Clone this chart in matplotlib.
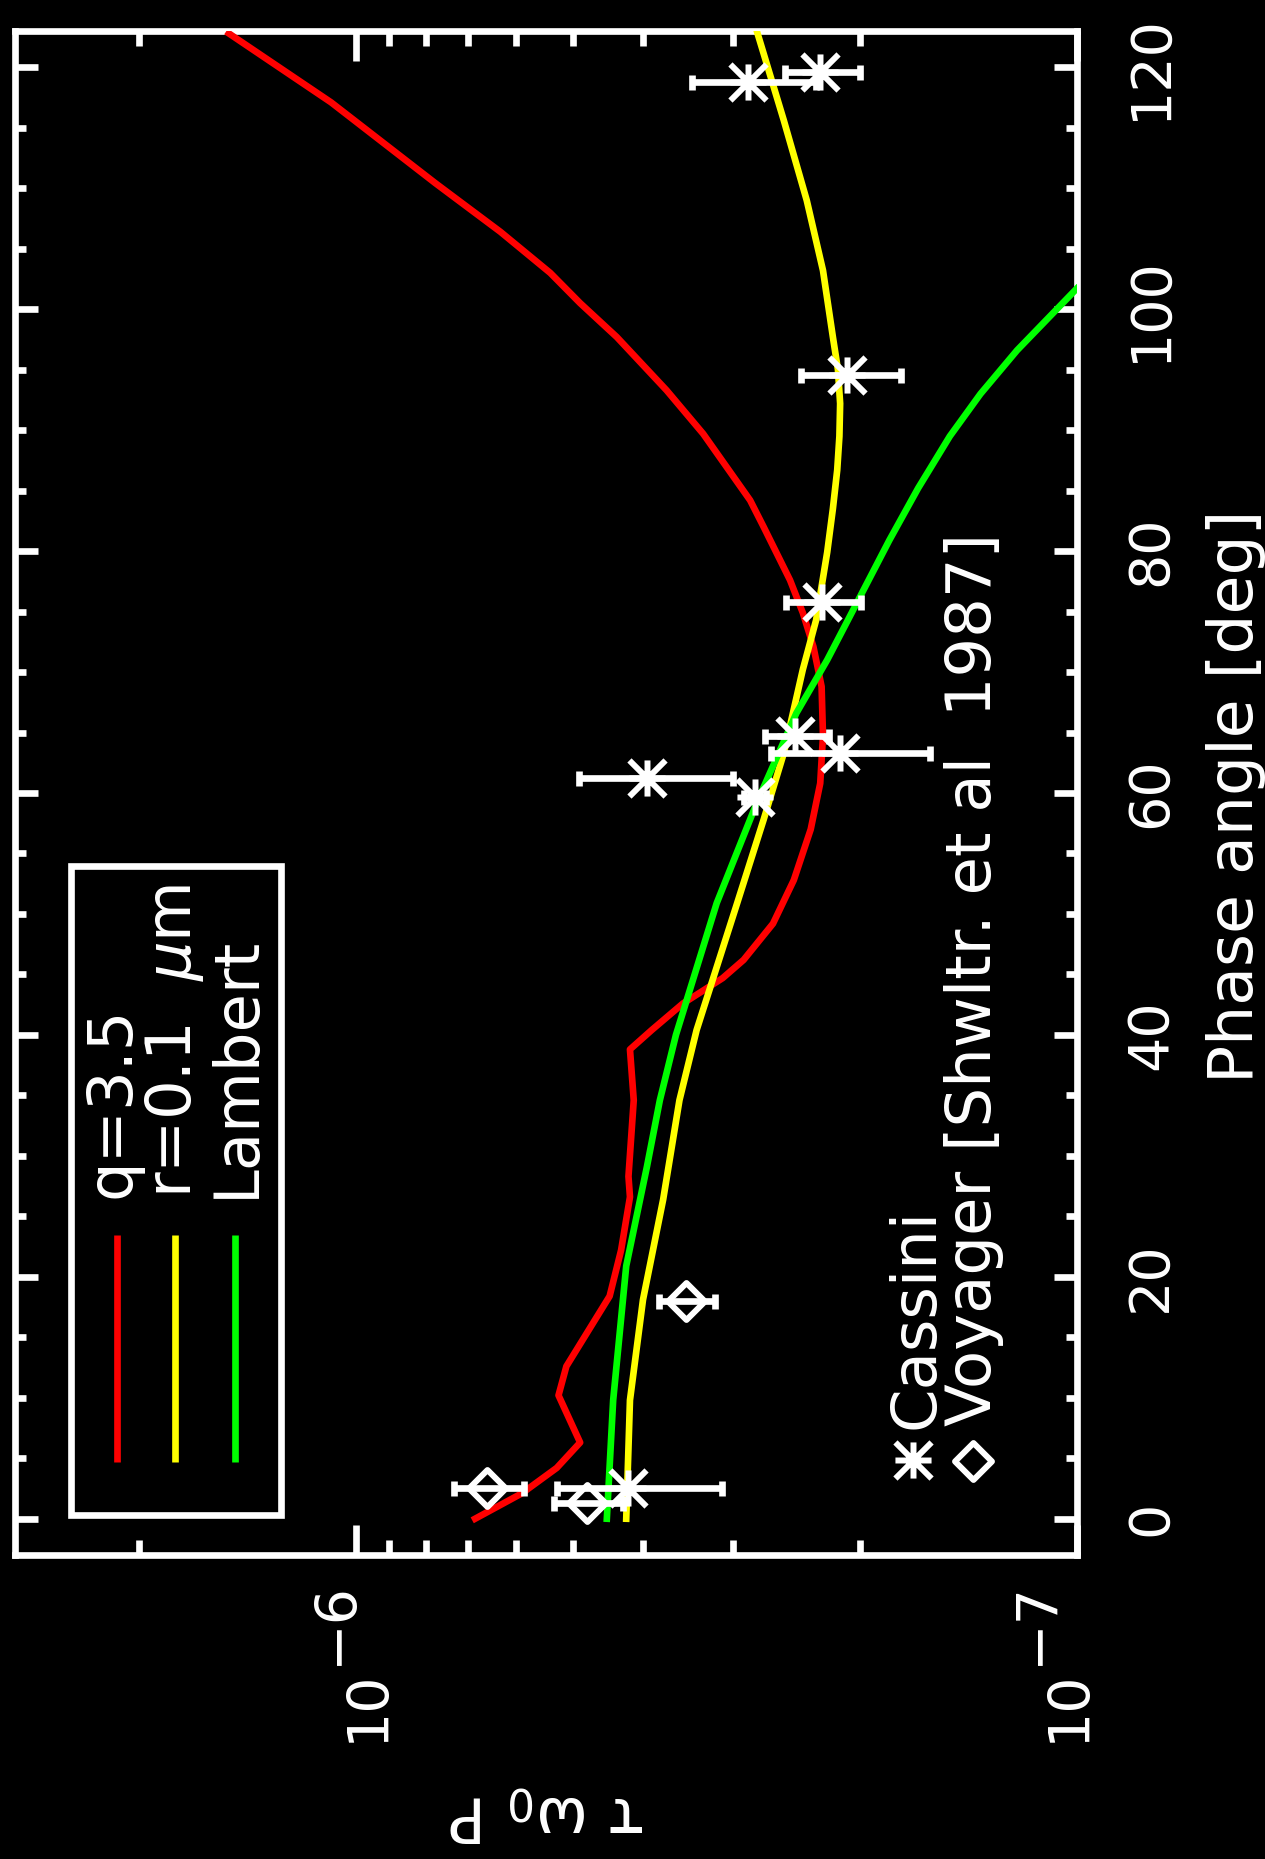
import numpy as np
import matplotlib
matplotlib.use("Agg")
import matplotlib.pyplot as plt
from matplotlib.path import Path
from matplotlib import transforms
from matplotlib.patches import Rectangle
from matplotlib.ticker import FixedLocator, MultipleLocator, NullFormatter

# ---------------------------------------------------------------- data
# tau * omega0 * P values are given in units of 1e-7
UNIT = 1e-7

# model: size distribution q = 3.5
phase_q35 = [0, 2.1, 4.2, 6.3, 10.2, 12.6, 18.4, 22.2, 26.6, 28.3, 34.6, 38.8,
             40.4, 42.6, 44.7, 46.2, 49.2, 52.8, 57.0, 60.8, 64.7, 68.8, 72.1,
             74.9, 77.6, 82.0, 84.2, 89.7, 93.3, 97.7, 100.5, 103.0, 106.4,
             110.4, 117.1, 122.8]
tau_q35 = [6.84, 5.89, 5.27, 4.89, 5.24, 5.11, 4.45, 4.29, 4.17, 4.19, 4.12, 4.17,
           3.89, 3.52, 3.10, 2.90, 2.64, 2.47, 2.34, 2.27, 2.25, 2.26, 2.32,
           2.40, 2.50, 2.72, 2.84, 3.30, 3.71, 4.35, 4.89, 5.38, 6.31,
           7.76, 10.84, 15.03]

# model: single grain size r = 0.1 micron
phase_r01 = [0, 9.8, 18.1, 26.4, 34.6, 40.4, 50.9, 57.8, 63.3, 70.2, 74.3, 79.9,
             83.5, 86.7, 89.5, 92.2, 95.0, 97.7, 103.2, 109.0, 115.6, 123.0]
tau_r01 = [4.22, 4.17, 4.00, 3.75, 3.56, 3.37, 2.96, 2.72, 2.55, 2.40, 2.30, 2.22,
           2.18, 2.15, 2.135, 2.13, 2.145, 2.18, 2.25, 2.37, 2.55, 2.78]

# model: Lambert surface
phase_lam = [0, 9.8, 20.9, 29.1, 34.6, 40.0, 50.9, 59.2, 66.6, 71.0, 75.7, 80.9,
             85.2, 89.5, 93.0, 96.6, 101.7]
tau_lam = [4.49, 4.40, 4.22, 3.95, 3.79, 3.60, 3.16, 2.78, 2.45, 2.22, 2.02, 1.82,
           1.66, 1.50, 1.36, 1.21, 1.00]

# Cassini measurements
cas_phase = [2.5, 59.7, 61.2, 63.3, 64.7, 75.8, 94.6, 118.8, 119.6]
cas_tau = [4.19, 2.80, 3.95, 2.13, 2.46, 2.26, 2.085, 2.86, 2.27]
cas_err = [1.08, 0.10, 0.95, 0.53, 0.25, 0.27, 0.33, 0.56, 0.27]

# Voyager measurements (Showalter et al. 1987)
voy_phase = [1.3, 2.5, 18.0]
voy_tau = [4.79, 6.59, 3.49]
voy_err = [0.52, 0.73, 0.31]

phase_ticks = [0, 20, 40, 60, 80, 100, 120]
decade_ticks = [1e-6, 1e-7]
decade_exponents = ["\u22126", "\u22127"]

legend_labels = ["q=3.5", "r=0.1  $\\mu$m", "Lambert"]
curve_colors = ["#ff0000", "#ffff00", "#00ff00"]

# ---------------------------------------------------------------- figure
W, H, DPI = 1265, 1859, 100
fig = plt.figure(figsize=(W / DPI, H / DPI), dpi=DPI, facecolor="black")

# plot frame (pixel positions of the frame lines' centres)
x0, x1, ytop, ybot = 14.7, 1076.7, 31.0, 1555.0
ax = fig.add_axes([x0 / W, 1 - ybot / H, (x1 - x0) / W, (ybot - ytop) / H],
                  facecolor="black")

ax.set_xscale("log")
ax.set_xlim(2.98e-6, 1e-7)
ax.set_ylim(-3, 123)

LW = 4.8
for s in ax.spines.values():
    s.set_color("white")
    s.set_linewidth(4.8)
    s.set_capstyle("projecting")

ax.xaxis.set_major_locator(FixedLocator(decade_ticks))
ax.xaxis.set_minor_locator(FixedLocator([k * 1e-7 for k in range(2, 10)] + [2e-6]))
ax.xaxis.set_major_formatter(NullFormatter())
ax.xaxis.set_minor_formatter(NullFormatter())
ax.yaxis.set_major_locator(FixedLocator(phase_ticks))
ax.yaxis.set_minor_locator(MultipleLocator(5))
ax.yaxis.set_major_formatter(NullFormatter())

ax.tick_params(axis="both", which="both", direction="in", colors="white",
               width=4.8, top=True, bottom=True, left=True, right=True,
               labelbottom=False, labelleft=False)
ax.tick_params(axis="x", which="major", length=21.6)
ax.tick_params(axis="x", which="minor", length=10.8)
ax.tick_params(axis="y", which="major", length=16.3)
ax.tick_params(axis="y", which="minor", length=7.9)

# ---------------------------------------------------------------- curves
ax.plot(np.array(tau_q35) * UNIT, phase_q35, color=curve_colors[0], lw=LW,
        solid_joinstyle="round", zorder=3)
ax.plot(np.array(tau_r01) * UNIT, phase_r01, color=curve_colors[1], lw=LW,
        solid_joinstyle="round", zorder=3)
ax.plot(np.array(tau_lam) * UNIT, phase_lam, color=curve_colors[2], lw=LW,
        solid_joinstyle="round", zorder=3)

# ---------------------------------------------------------------- symbols
star_path = Path([(-1, 0), (1, 0), (0, -1), (0, 1), (-1, -1), (1, 1), (-1, 1), (1, -1)],
                 [Path.MOVETO, Path.LINETO] * 4)
diamond_path = Path([(0, 1), (1, 0), (0, -1), (-1, 0), (0, 1)],
                    [Path.MOVETO, Path.LINETO, Path.LINETO, Path.LINETO, Path.CLOSEPOLY])

err_kw = dict(fmt="none", ecolor="white", elinewidth=LW, capsize=5.4,
              capthick=LW, zorder=4)
ax.errorbar(np.array(cas_tau) * UNIT, cas_phase, xerr=np.array(cas_err) * UNIT, **err_kw)
ax.errorbar(np.array(voy_tau) * UNIT, voy_phase, xerr=np.array(voy_err) * UNIT, **err_kw)

ax.plot(np.array(cas_tau) * UNIT, cas_phase, ls="none", marker=star_path, ms=26,
        mec="white", mfc="none", mew=4.3, zorder=5)
ax.plot(np.array(voy_tau) * UNIT, voy_phase, ls="none", marker=diamond_path, ms=26.6,
        mec="white", mfc="none", mew=4.3, zorder=5)


# ---------------------------------------------------------------- helpers
def fx(px):
    return px / W


def fy(py):
    return 1 - py / H


txt = dict(color="white", rotation_mode="anchor")

# phase-angle tick labels (right side)
blend_y = transforms.blended_transform_factory(fig.transFigure, ax.transData)
for p in phase_ticks:
    ax.text(fx(1166), p, str(p), transform=blend_y, rotation=90,
            ha="center", va="baseline", fontsize=40, **txt)

# decade tick labels (bottom side), written as 10 with a raised exponent
blend_x = transforms.blended_transform_factory(ax.transData, fig.transFigure)
base_dx = [27, 8]
exp_dx = [-4, -24]
for v, e, bdx, edx in zip(decade_ticks, decade_exponents, base_dx, exp_dx):
    t_base = blend_x + transforms.ScaledTranslation(bdx / DPI, 0, fig.dpi_scale_trans)
    t_exp = blend_x + transforms.ScaledTranslation(edx / DPI, 0, fig.dpi_scale_trans)
    ax.text(v, fy(1742), "10", transform=t_base, rotation=90, ha="left",
            va="baseline", fontsize=41, **txt)
    ax.text(v, fy(1665), e, transform=t_exp, rotation=90, ha="left",
            va="baseline", fontsize=41, **txt)

# axis titles
fig.text(fx(1253), fy(1083), "Phase angle [deg]", rotation=90, ha="left",
         va="baseline", fontsize=45.5, **txt)
fig.text(fx(547), fy(1797), "\u03c4 \u03c9$_0$ P", rotation=180, ha="center",
         va="baseline", fontsize=45, **txt)

# ---------------------------------------------------------------- model legend
ax.add_patch(Rectangle((fx(71), fy(1515)), fx(281) - fx(71), fy(866) - fy(1515),
                       transform=fig.transFigure, fill=False, ec="white",
                       lw=4.8, zorder=6))
leg_line_x = [116.7, 175.0, 235.0]
leg_text_x = [129.0, 191.5, 253.5]
for lx, tx, lab, col in zip(leg_line_x, leg_text_x, legend_labels, curve_colors):
    ax.plot([fx(lx), fx(lx)], [fy(1462), fy(1235)], transform=fig.transFigure,
            color=col, lw=LW, solid_capstyle="butt", zorder=6)
    fig.text(fx(tx), fy(1198), lab, rotation=90, ha="left", va="baseline",
             fontsize=45, **txt)

# ---------------------------------------------------------------- data legend
ax.plot([fx(913)], [fy(1460)], transform=fig.transFigure, ls="none",
        marker=star_path, ms=26, mec="white", mfc="none", mew=4.3, zorder=6)
ax.plot([fx(973)], [fy(1461)], transform=fig.transFigure, ls="none",
        marker=diamond_path, ms=26.6, mec="white", mfc="none", mew=4.3, zorder=6)
fig.text(fx(933), fy(1429), "Cassini", rotation=90, ha="left", va="baseline",
         fontsize=45, **txt)
fig.text(fx(991), fy(1426), "Voyager [Shwltr. et al  1987]", rotation=90,
         ha="left", va="baseline", fontsize=45, **txt)

fig.savefig("out.png", dpi=DPI, facecolor="black")
